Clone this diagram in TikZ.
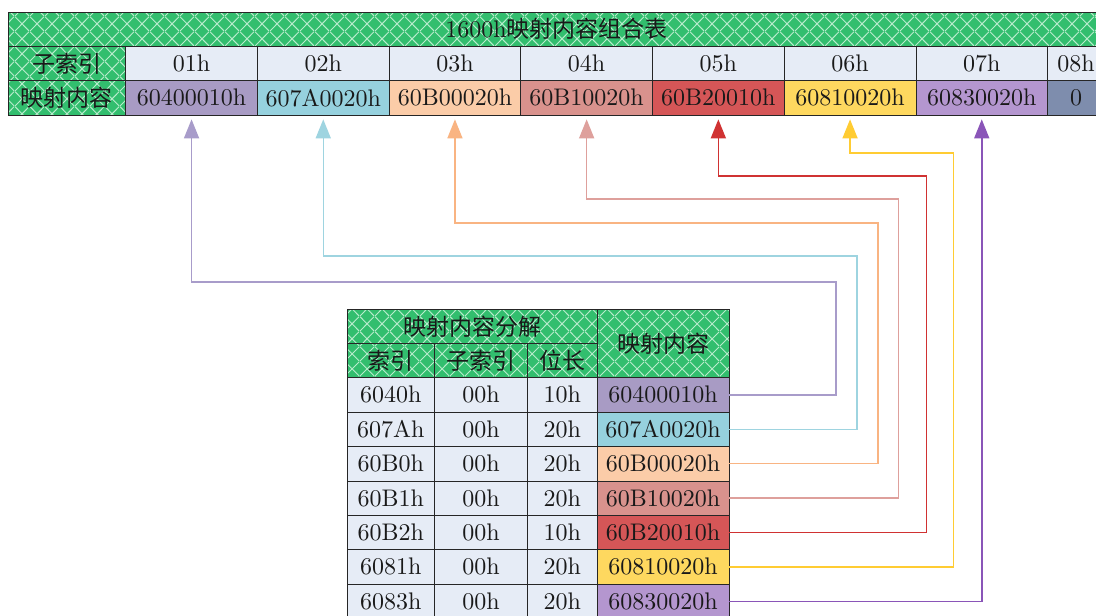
\documentclass[tikz,border=0pt]{standalone}
\usepackage{fontspec}
\setmainfont{lmroman10-regular}[Extension=.otf]
\newfontfamily\cjk{Noto Sans CJK SC}
\usetikzlibrary{arrows.meta,patterns.meta}
\definecolor{hgreen}{RGB}{50,190,110}
\definecolor{patc}{RGB}{185,236,205}
\definecolor{cellbg}{RGB}{230,236,246}
\definecolor{c1}{RGB}{168,155,196}
\definecolor{c2}{RGB}{150,209,222}
\definecolor{c3}{RGB}{251,204,168}
\definecolor{c4}{RGB}{217,146,141}
\definecolor{c5}{RGB}{213,86,87}
\definecolor{c6}{RGB}{254,216,95}
\definecolor{c7}{RGB}{180,150,207}
\definecolor{c8}{RGB}{126,141,173}
\definecolor{l1}{RGB}{168,156,202}
\definecolor{l2}{RGB}{158,212,224}
\definecolor{l3}{RGB}{249,180,130}
\definecolor{l4}{RGB}{222,160,156}
\definecolor{l5}{RGB}{208,50,50}
\definecolor{l6}{RGB}{255,204,51}
\definecolor{l7}{RGB}{138,85,184}
\tikzdeclarepattern{
  name=diam,
  type=uncolored,
  bounding box={(0pt,0pt) and (15pt,15pt)},
  tile size={(15pt,15pt)},
  code={
    \draw[line width=1pt] (0pt,0pt) -- (15pt,15pt) (0pt,15pt) -- (15pt,0pt);
  }
}
\tikzset{
  cell/.style={draw=black!85, line width=0.8pt, inner sep=0pt, text=black!90,
    minimum width=131.7pt, minimum height=34.3pt, fill=#1},
  cell/.default=cellbg,
  hdr/.style={draw=black!85, line width=0.8pt, inner sep=0pt, text=black!90,
    preaction={fill=hgreen}, pattern=diam, pattern color=patc,
    minimum height=34.3pt},
  conn/.style={draw=#1, line width=1.5pt, shorten >=4pt,
    -{Triangle[length=19pt,width=15pt,fill=#1]}},
}
\newcommand{\zh}[1]{{\cjk\fontsize{23}{28}\selectfont #1}}
\begin{document}
\begin{tikzpicture}[x=1pt,y=-1pt,font=\fontsize{24}{28}\selectfont]
\fill[white] (0,0) rectangle (1096,616);
\useasboundingbox (0,0) rectangle (1096,616);
% ---------- top table ----------
\node[hdr, minimum width=1097pt] (title) at (556.5,29.15) {1600h\zh{映射内容组合表}};
\node[hdr, minimum width=117.7pt] (sublab) at (66.85,63.45) {\zh{子索引}};
\node[hdr, minimum width=117.7pt] (maplab) at (66.85,97.8) {\zh{映射内容}};
\node[cell] (s1) at (191.55,63.45) {01h};
\node[cell] (s2) at (323.25,63.45) {02h};
\node[cell] (s3) at (454.95,63.45) {03h};
\node[cell] (s4) at (586.65,63.45) {04h};
\node[cell] (s5) at (718.35,63.45) {05h};
\node[cell] (s6) at (850.05,63.45) {06h};
\node[cell] (s7) at (981.75,63.45) {07h};
\node[cell, minimum width=57pt] (s8) at (1076.1,63.45) {08h};
\node[cell=c1] (t1) at (191.55,97.8) {60400010h};
\node[cell=c2] (t2) at (323.25,97.8) {607A0020h};
\node[cell=c3] (t3) at (454.95,97.8) {60B00020h};
\node[cell=c4] (t4) at (586.65,97.8) {60B10020h};
\node[cell=c5] (t5) at (718.35,97.8) {60B20010h};
\node[cell=c6] (t6) at (850.05,97.8) {60810020h};
\node[cell=c7] (t7) at (981.75,97.8) {60830020h};
\node[cell=c8, minimum width=57pt] (t8) at (1076.1,97.8) {0};
% ---------- bottom table ----------
\node[hdr, minimum width=249.7pt, minimum height=34.2pt] (hsplit) at (472.15,326.4) {\zh{映射内容分解}};
\node[hdr, minimum width=132pt, minimum height=68.4pt] (hmap) at (663,343.5) {\zh{映射内容}};
\node[hdr, minimum width=87pt, minimum height=34.2pt] (hidx) at (390.8,360.6) {\zh{索引}};
\node[hdr, minimum width=93.4pt, minimum height=34.2pt] (hsub) at (481,360.6) {\zh{子索引}};
\node[hdr, minimum width=69.3pt, minimum height=34.2pt] (hlen) at (562.35,360.6) {\zh{位长}};
\tikzset{
  ci/.style={cell, minimum width=87pt, minimum height=34.4pt},
  cs/.style={cell, minimum width=93.4pt, minimum height=34.4pt},
  cl/.style={cell, minimum width=69.3pt, minimum height=34.4pt},
  cm/.style={cell=#1, minimum width=132pt, minimum height=34.4pt},
}
\node[ci] (i1) at (390.8,394.9) {6040h};
\node[cs] (u1) at (481,394.9) {00h};
\node[cl] (b1) at (562.35,394.9) {10h};
\node[cm=c1] (m1) at (663,394.9) {60400010h};
\node[ci] (i2) at (390.8,429.3) {607Ah};
\node[cs] (u2) at (481,429.3) {00h};
\node[cl] (b2) at (562.35,429.3) {20h};
\node[cm=c2] (m2) at (663,429.3) {607A0020h};
\node[ci] (i3) at (390.8,463.7) {60B0h};
\node[cs] (u3) at (481,463.7) {00h};
\node[cl] (b3) at (562.35,463.7) {20h};
\node[cm=c3] (m3) at (663,463.7) {60B00020h};
\node[ci] (i4) at (390.8,498.1) {60B1h};
\node[cs] (u4) at (481,498.1) {00h};
\node[cl] (b4) at (562.35,498.1) {20h};
\node[cm=c4] (m4) at (663,498.1) {60B10020h};
\node[ci] (i5) at (390.8,532.5) {60B2h};
\node[cs] (u5) at (481,532.5) {00h};
\node[cl] (b5) at (562.35,532.5) {10h};
\node[cm=c5] (m5) at (663,532.5) {60B20010h};
\node[ci] (i6) at (390.8,566.9) {6081h};
\node[cs] (u6) at (481,566.9) {00h};
\node[cl] (b6) at (562.35,566.9) {20h};
\node[cm=c6] (m6) at (663,566.9) {60810020h};
\node[ci] (i7) at (390.8,601.3) {6083h};
\node[cs] (u7) at (481,601.3) {00h};
\node[cl] (b7) at (562.35,601.3) {20h};
\node[cm=c7] (m7) at (663,601.3) {60830020h};
% ---------- connectors ----------
\coordinate (k1) at (836,282);
\coordinate (k2) at (857,256);
\coordinate (k3) at (878,223);
\coordinate (k4) at (898.5,199);
\coordinate (k5) at (926.5,176);
\coordinate (k6) at (953.5,153);
\draw[conn=l1] (m1.east) -| (k1) -| (t1.south);
\draw[conn=l2] (m2.east) -| (k2) -| (t2.south);
\draw[conn=l3] (m3.east) -| (k3) -| (t3.south);
\draw[conn=l4] (m4.east) -| (k4) -| (t4.south);
\draw[conn=l5] (m5.east) -| (k5) -| (t5.south);
\draw[conn=l6] (m6.east) -| (k6) -| (t6.south);
\draw[conn=l7] (m7.east) -| (t7.south);
\end{tikzpicture}
\end{document}
